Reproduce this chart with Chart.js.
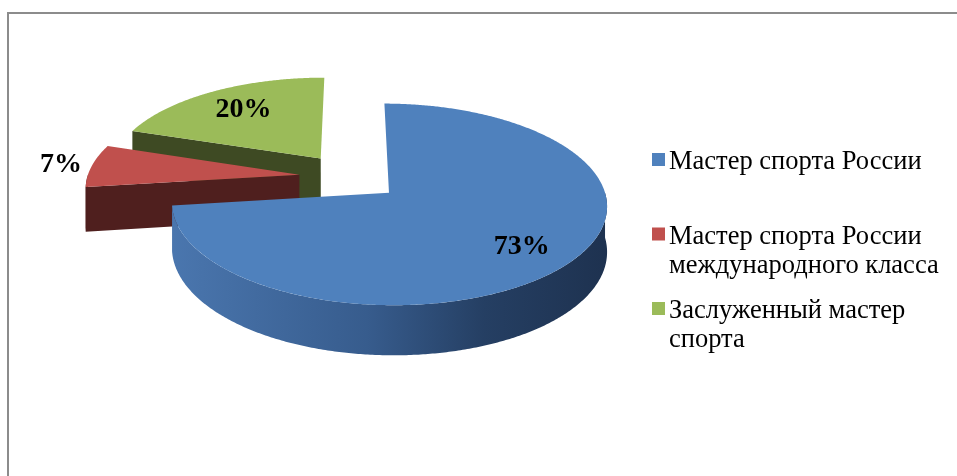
<!DOCTYPE html>
<html lang="ru">
<head>
<meta charset="utf-8">
<title>Спортивные звания</title>
<script src="https://cdn.jsdelivr.net/npm/chart.js@4/dist/chart.umd.min.js"></script>
<style>
  html, body { margin: 0; padding: 0; background: #fff; }
  #wrap { position: relative; width: 957px; height: 476px; overflow: hidden; }
  #frame { position: absolute; left: 7px; top: 12px; width: 960px; height: 480px;
           border-left: 2px solid #8c8c8c; border-top: 2px solid #8c8c8c; }
  #chart { position: absolute; left: 0; top: 0; }
</style>
</head>
<body>
<div id="wrap">
  <div id="frame"></div>
  <canvas id="chart" width="957" height="476"></canvas>
</div>
<script>
// --- данные диаграммы ---
const categories = ['Мастер спорта России', 'Мастер спорта России международного класса', 'Заслуженный мастер спорта'];
const shares = [73, 7, 20];

// цвета: верхняя грань и боковые стенки
const topColors = ['#4F81BD', '#C0504D', '#9BBB59'];
const sideColors = ['#2E4F7C', '#4F1F1E', '#3E4A23'];

// --- параметры "3D" проекции ---
const TILT = 0.458;   // сжатие плоскости круга по вертикали
const PERSP = 0.12;   // перспектива: ближняя часть крупнее
const DEPTH = 44;     // высота стенки, px

function project(cx, cy, R, u, v) {
    const f = 1 + PERSP * v / R;
    return { x: cx + u * f, y: cy + TILT * v * f, f: f };
}

// рисует круговую диаграмму как объёмную, используя углы дуг Chart.js
const pie3d = {
    id: 'pie3d',
    beforeDatasetsDraw(chart, args, opts) {
        const ctx = chart.ctx;
        const meta = chart.getDatasetMeta(0);

        const slices = meta.data.map((el, i) => {
            const p = el.getProps(['x', 'y', 'startAngle', 'endAngle', 'outerRadius'], true);
            const off = el.options.offset || 0;
            const mid = (p.startAngle + p.endAngle) / 2;
            return {
                i: i, cx: p.x, cy: p.y, R: p.outerRadius,
                s: p.startAngle, e: p.endAngle, mid: mid,
                ou: off * Math.cos(mid), ov: off * Math.sin(mid)
            };
        });
        chart.$slices3d = slices;

        // дальние сектора рисуем первыми
        const order = slices.slice().sort((a, b) => a.ov - b.ov);

        order.forEach(sl => {
            const pt = (a, r) => project(sl.cx, sl.cy, sl.R, sl.ou + r * Math.cos(a), sl.ov + r * Math.sin(a));
            const apex = pt(0, 0);
            const side = sideColors[sl.i];

            // радиальные грани (только те, что смотрят на зрителя)
            const cutFace = (a) => {
                const o = pt(a, sl.R);
                ctx.beginPath();
                ctx.moveTo(apex.x, apex.y);
                ctx.lineTo(o.x, o.y);
                ctx.lineTo(o.x, o.y + DEPTH * o.f);
                ctx.lineTo(apex.x, apex.y + DEPTH * apex.f);
                ctx.closePath();
                ctx.fillStyle = side;
                ctx.fill();
            };
            if (-Math.cos(sl.s) > 0.001) cutFace(sl.s);
            if (Math.cos(sl.e) > 0.001) cutFace(sl.e);

            // внешняя стенка, видимая часть (0..PI)
            const a1 = Math.max(sl.s, 0), a2 = Math.min(sl.e, Math.PI);
            if (a2 > a1) {
                const steps = Math.max(2, Math.ceil((a2 - a1) / 0.01));
                ctx.beginPath();
                for (let k = 0; k <= steps; k++) {
                    const q = pt(a1 + (a2 - a1) * k / steps, sl.R);
                    k === 0 ? ctx.moveTo(q.x, q.y) : ctx.lineTo(q.x, q.y);
                }
                for (let k = steps; k >= 0; k--) {
                    const q = pt(a1 + (a2 - a1) * k / steps, sl.R);
                    ctx.lineTo(q.x, q.y + DEPTH * q.f);
                }
                ctx.closePath();
                if (sl.i === 0) {
                    const left = pt(Math.PI, sl.R).x, right = pt(0, sl.R).x;
                    const g = ctx.createLinearGradient(left, 0, right, 0);
                    g.addColorStop(0, '#4A76AE');
                    g.addColorStop(0.45, '#375C8D');
                    g.addColorStop(0.72, '#253F63');
                    g.addColorStop(1, '#1E3250');
                    ctx.fillStyle = g;
                } else {
                    ctx.fillStyle = side;
                }
                ctx.fill();
            }

            // верхняя грань
            const steps = Math.max(2, Math.ceil((sl.e - sl.s) / 0.008));
            ctx.beginPath();
            ctx.moveTo(apex.x, apex.y);
            for (let k = 0; k <= steps; k++) {
                const q = pt(sl.s + (sl.e - sl.s) * k / steps, sl.R);
                ctx.lineTo(q.x, q.y);
            }
            ctx.closePath();
            ctx.fillStyle = topColors[sl.i];
            ctx.fill();
        });
        return false;
    },
    afterDraw(chart, args, opts) {
        const ctx = chart.ctx;

        // подписи долей
        const slices = chart.$slices3d || [];
        const total = shares.reduce((a, b) => a + b, 0);
        ctx.save();
        ctx.font = 'bold 28px "Liberation Serif", "Times New Roman", serif';
        ctx.fillStyle = '#000';
        ctx.textAlign = 'center';
        ctx.textBaseline = 'middle';
        slices.forEach(sl => {
            const t = opts.labelRadius[sl.i];
            const q = project(sl.cx, sl.cy, sl.R,
                sl.ou + t * sl.R * Math.cos(sl.mid), sl.ov + t * sl.R * Math.sin(sl.mid));
            const pct = Math.round(shares[sl.i] / total * 100) + '%';
            ctx.fillText(pct, q.x, q.y);
        });
        ctx.restore();

        // легенда справа с переносом строк
        const lg = opts.legend;
        ctx.save();
        ctx.font = '26.5px "Liberation Serif", "Times New Roman", serif';
        ctx.textBaseline = 'alphabetic';
        ctx.textAlign = 'left';
        chart.data.labels.forEach((label, i) => {
            const words = label.split(' ');
            const lines = [];
            let line = '';
            words.forEach(w => {
                const test = line ? line + ' ' + w : w;
                if (line && ctx.measureText(test).width > lg.maxWidth) {
                    lines.push(line);
                    line = w;
                } else {
                    line = test;
                }
            });
            lines.push(line);

            const base = lg.top + i * lg.pitch;
            ctx.fillStyle = topColors[i];
            ctx.fillRect(lg.x, base - 16, 13, 13);
            ctx.fillStyle = '#000';
            lines.forEach((ln, k) => ctx.fillText(ln, lg.x + 17, base + k * lg.lineHeight));
        });
        ctx.restore();
    }
};

const ctx = document.getElementById('chart').getContext('2d');
new Chart(ctx, {
    type: 'pie',
    data: {
        labels: categories,
        datasets: [{
            data: shares,
            backgroundColor: topColors,
            borderWidth: 0,
            offset: 51,
            radius: 212
        }]
    },
    options: {
        responsive: false,
        animation: false,
        layout: { padding: { left: 0, right: 257, top: 0, bottom: 122 } },
        plugins: {
            legend: { display: false },
            tooltip: { enabled: false },
            pie3d: {
                labelRadius: [0.76, 1.15, 0.7],
                legend: { x: 652, top: 169, pitch: 74.5, lineHeight: 29, maxWidth: 280 }
            }
        }
    },
    plugins: [pie3d]
});
</script>
</body>
</html>
